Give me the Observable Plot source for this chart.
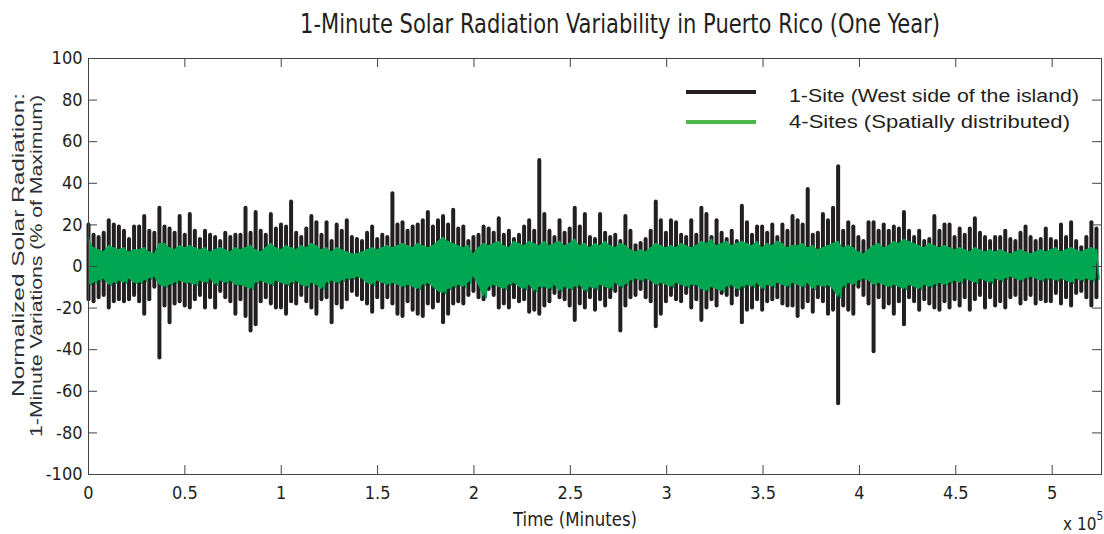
<!DOCTYPE html>
<html><head><meta charset="utf-8">
<script src="https://cdn.jsdelivr.net/npm/d3@7"></script>
<script src="https://cdn.jsdelivr.net/npm/@observablehq/plot@0.6"></script>
<style>body{margin:0;background:#fff}svg{display:block}</style>
</head><body><div id="chart"></div>
<script>
// ---- data ----
const STEP = 2628; // minutes between samples
const blackHi = [
20,15,14,16,22,20,19,17,13,19,
19,24,17,16,28,19,18,16,24,15,
25,17,13,17,15,14,12,16,14,15,
15,28,16,26,17,15,25,18,20,19,
31,16,14,18,24,21,15,21,12,20,
17,22,14,13,12,16,19,13,15,14,
35,20,21,17,19,20,22,26,19,22,
24,20,27,18,19,12,14,15,19,18,
16,23,15,17,13,15,19,22,17,51,
25,17,14,22,16,18,28,19,25,14,
13,25,16,14,15,12,24,17,10,11,
13,17,31,22,16,22,21,15,14,22,
15,28,25,14,22,16,13,17,12,29,
21,15,19,19,16,20,14,20,17,24,
22,20,37,15,16,25,22,28,48,17,
21,19,14,12,21,21,17,20,17,19,
18,26,17,14,17,12,13,24,17,20,
20,14,18,15,18,23,16,14,12,14,
14,17,13,12,16,19,14,12,13,18,
13,12,20,14,21,12,9,14,21,18];
const blackLo = [
-16,-17,-15,-14,-20,-17,-16,-17,-16,-14,
-17,-23,-16,-10,-44,-19,-27,-18,-17,-19,
-20,-16,-14,-20,-15,-20,-12,-15,-17,-23,
-16,-24,-31,-28,-17,-15,-18,-20,-20,-23,
-17,-18,-14,-17,-20,-23,-16,-15,-27,-18,
-20,-16,-12,-14,-16,-18,-22,-15,-20,-15,
-18,-23,-24,-17,-21,-23,-24,-18,-20,-17,
-27,-23,-18,-17,-18,-14,-12,-15,-16,-11,
-14,-20,-18,-20,-15,-17,-16,-22,-21,-23,
-19,-17,-13,-15,-16,-19,-26,-18,-20,-15,
-21,-16,-19,-15,-12,-31,-19,-15,-14,-11,
-15,-17,-29,-23,-17,-14,-16,-17,-13,-20,
-16,-26,-20,-16,-19,-13,-14,-18,-14,-27,
-21,-20,-16,-21,-17,-16,-15,-18,-19,-19,
-24,-20,-17,-22,-15,-17,-23,-21,-66,-19,
-21,-23,-10,-14,-18,-41,-15,-20,-18,-23,
-17,-28,-15,-17,-21,-16,-18,-20,-21,-17,
-20,-16,-19,-15,-21,-16,-14,-20,-15,-19,
-17,-20,-15,-14,-18,-16,-14,-18,-16,-17,
-17,-13,-18,-15,-19,-13,-12,-15,-19,-15];
const greenHi = [
14,9,8,7,10,9,8,9,7,8,
8,9,7,6,11,11,9,8,10,9,
10,9,8,9,7,8,9,8,7,9,
8,9,10,8,7,9,11,9,8,10,
9,8,10,9,11,10,8,9,7,9,
8,7,6,6,7,8,9,8,9,10,
9,10,11,10,9,11,10,9,10,12,
14,12,11,10,9,10,6,9,11,10,
11,12,10,9,12,11,10,12,11,10,
12,10,11,12,10,11,13,10,11,9,
11,10,12,10,9,11,10,8,7,8,
7,9,11,10,9,10,9,11,10,9,
10,12,11,13,10,11,12,10,11,12,
11,10,12,9,11,10,12,11,9,10,
10,11,9,10,8,9,10,11,12,9,
10,9,7,6,8,10,11,9,10,12,
11,13,12,11,10,9,11,10,9,10,
9,8,9,8,7,9,8,7,8,7,
8,7,6,7,8,7,6,7,8,7,
8,9,7,8,9,8,7,8,9,8];
const greenLo = [
-9,-8,-7,-6,-9,-8,-7,-8,-6,-8,
-8,-7,-6,-5,-9,-10,-9,-8,-7,-8,
-8,-9,-7,-8,-6,-9,-7,-8,-7,-9,
-9,-10,-11,-8,-7,-8,-9,-7,-8,-9,
-8,-7,-9,-10,-8,-9,-11,-8,-7,-8,
-7,-6,-6,-5,-6,-8,-9,-7,-8,-9,
-8,-9,-10,-9,-10,-11,-9,-8,-10,-12,
-13,-11,-10,-9,-10,-8,-5,-9,-15,-10,
-9,-10,-11,-9,-8,-10,-11,-9,-12,-10,
-10,-11,-9,-12,-10,-11,-10,-9,-12,-10,
-11,-9,-10,-11,-8,-10,-9,-7,-6,-7,
-6,-7,-9,-8,-9,-10,-8,-9,-10,-9,
-9,-11,-12,-10,-11,-12,-10,-9,-11,-10,
-9,-10,-8,-11,-9,-10,-8,-9,-10,-8,
-9,-10,-8,-11,-9,-10,-9,-11,-15,-10,
-8,-9,-7,-6,-7,-9,-8,-9,-10,-9,
-10,-11,-9,-10,-11,-9,-10,-9,-8,-9,
-8,-7,-8,-6,-7,-8,-6,-7,-8,-6,
-7,-6,-5,-6,-7,-6,-5,-6,-7,-6,
-6,-7,-6,-7,-8,-6,-7,-6,-7,-6];
const xTicks = [0,50000,100000,150000,200000,250000,300000,350000,400000,450000,500000];
const yTicks = [-100,-80,-60,-40,-20,0,20,40,60,80,100];
const xMax = 525600;
const seriesNames = ["1-Site (West side of the island)", "4-Sites (Spatially distributed)"];
const seriesColors = ["#231f20", "#00a651"];
const legendColors = ["#231f20", "#4cb848"];
const titleText = "1-Minute Solar Radiation Variability in Puerto Rico (One Year)";
const xLabelText = "Time (Minutes)";
const yLabelLines = ["Normalized Solar Radiation:", "1-Minute Variations (% of Maximum)"];

// ---- build tables ----
const blackData = blackHi.map((h, i) => ({t: i * STEP, hi: h, lo: blackLo[i]}));
const greenData = greenHi.map((h, i) => ({t: i * STEP, hi: h, lo: greenLo[i]}));
const greenZig = [];
greenHi.forEach((h, i) => {
  greenZig.push({t: i * STEP, v: h});
  greenZig.push({t: i * STEP + STEP / 2, v: greenLo[i]});
});

const W = 1104, H = 534;
const mL = 88, mR = 3, mT = 58, mB = 60;
const tyLen = 9 * 200 / (H - mT - mB);
const txLen = 9 * xMax / (W - mL - mR);
const narrow = "'Liberation Sans Narrow','DejaVu Sans Condensed',sans-serif";
const axisColor = "#444";

const plot = Plot.plot({
  width: W, height: H,
  marginLeft: mL, marginRight: mR, marginTop: mT, marginBottom: mB,
  style: {fontFamily: narrow, fontSize: "17px", color: "#231f20", background: "#fff"},
  x: {domain: [0, xMax]},
  y: {domain: [-100, 100]},
  marks: [
    Plot.ruleX(blackData, {x: "t", y1: "lo", y2: "hi", stroke: seriesColors[0], strokeWidth: 4, strokeLinecap: "round"}),
    Plot.areaY(greenData, {x: "t", y1: "lo", y2: "hi", fill: seriesColors[1]}),
    Plot.line(greenZig, {x: "t", y: "v", stroke: seriesColors[1], strokeWidth: 1.8}),
    Plot.frame({stroke: axisColor}),
    Plot.ruleX(xTicks, {x: d => d, y1: -100, y2: -100 + tyLen, stroke: axisColor}),
    Plot.ruleX(xTicks, {x: d => d, y1: 100, y2: 100 - tyLen, stroke: axisColor}),
    Plot.ruleY(yTicks, {y: d => d, x1: 0, x2: txLen, stroke: axisColor}),
    Plot.ruleY(yTicks, {y: d => d, x1: xMax - txLen, x2: xMax, stroke: axisColor}),
    Plot.axisX({ticks: xTicks, tickSize: 0, tickPadding: 12, tickFormat: d => String(d / 1e5), label: null, fontSize: 18}),
    Plot.axisY({ticks: yTicks, tickSize: 0, tickPadding: 6, tickFormat: d => String(d), label: null, fontSize: 18})
  ]
});
document.getElementById("chart").appendChild(plot);

const svg = d3.select(plot);
// title
svg.append("text").attr("x", 620).attr("y", 33).attr("text-anchor", "middle")
  .attr("font-family", narrow).attr("font-size", 26).attr("fill", "#231f20")
  .attr("textLength", 640).attr("lengthAdjust", "spacingAndGlyphs").text(titleText);
// x label
svg.append("text").attr("x", 575).attr("y", 526).attr("text-anchor", "middle")
  .attr("font-family", narrow).attr("font-size", 19).attr("fill", "#231f20")
  .attr("textLength", 124).attr("lengthAdjust", "spacingAndGlyphs").text(xLabelText);
// x 10^5
const sci = svg.append("text").attr("x", 1063).attr("y", 530).attr("text-anchor", "start")
  .attr("font-family", narrow).attr("font-size", 17).attr("fill", "#231f20");
sci.append("tspan").text("x 10");
sci.append("tspan").attr("dy", -10).attr("font-size", 12).text("5");
// y label
const yCenters = [[24, 245, 304], [42, 266, 342]];
yLabelLines.forEach((t, i) => {
  const [x, y, len] = yCenters[i];
  svg.append("text").attr("transform", `translate(${x},${y}) rotate(-90)`)
    .attr("text-anchor", "middle").attr("font-family", "'Liberation Sans',sans-serif")
    .attr("font-size", 17).attr("fill", "#2e2e36")
    .attr("textLength", len).attr("lengthAdjust", "spacingAndGlyphs").text(t);
});
// legend
const legY = [92, 122], legTextY = [102, 128], legLen = [290, 281];
seriesNames.forEach((name, i) => {
  svg.append("line").attr("x1", 686).attr("x2", 756).attr("y1", legY[i]).attr("y2", legY[i])
    .attr("stroke", legendColors[i]).attr("stroke-width", 4);
  svg.append("text").attr("x", 789).attr("y", legTextY[i]).attr("text-anchor", "start")
    .attr("font-family", "'Liberation Sans',sans-serif").attr("font-size", 18).attr("fill", "#231f20")
    .attr("textLength", legLen[i]).attr("lengthAdjust", "spacingAndGlyphs").text(name);
});
</script>
</body></html>
